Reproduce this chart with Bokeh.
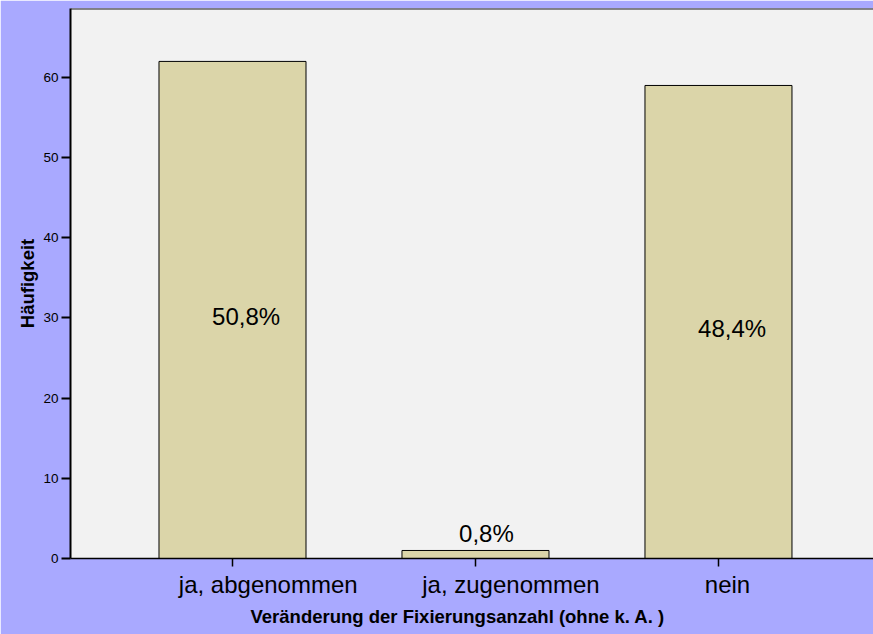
from bokeh.plotting import figure
from bokeh.models import (Range1d, FixedTicker, Span, ColumnDataSource,
                          LinearAxis, Title)
from bokeh.core.properties import value
from bokeh.embed import file_html
from bokeh.resources import INLINE

# ---- data ----
categories = ["ja, abgenommen", "ja, zugenommen", "nein"]
counts = [62, 1, 59]
y_ticks = [0, 10, 20, 30, 40, 50, 60]
x_title = "Veränderung der Fixierungsanzahl (ohne k. A. )"
y_title = "Häufigkeit"

BG = "#A9A9FF"
PLOT_BG = "#F2F2F2"
BAR = "#DBD5A9"
FONT = "Liberation Sans"
BIG = 24  # px, category and percentage labels
W, H = 873, 634
ML, MB, MT = 70, 76, 8
X0, X1 = 0.3333, 3.638

# approximate Arial advance widths (em) -- used to mimic the source's
# left-anchored text placement
_W = {"j": .222, "i": .222, "a": .556, "b": .556, "g": .556, "e": .556,
      "n": .556, "o": .556, "u": .556, "z": .5, "m": .833, ",": .278,
      " ": .278, "%": .889}


def text_w(s, size):
    return sum(_W.get(ch, .556) for ch in s) * size


total = sum(counts)
xs = list(range(1, len(categories) + 1))
pct = [f"{c / total * 100:.1f}%".replace(".", ",") for c in counts]
ppu = (W - ML) / (X1 - X0)  # pixels per x unit

p = figure(width=W, height=H, output_backend="svg", toolbar_location=None,
           x_range=Range1d(X0, X1), y_range=Range1d(0, 68.6),
           min_border_left=ML, min_border_right=0, min_border_top=MT,
           min_border_bottom=MB)
p.background_fill_color = PLOT_BG
p.border_fill_color = BG
p.outline_line_color = None
p.grid.visible = False

src = ColumnDataSource(dict(x=xs, top=counts))
p.vbar(x="x", top="top", width=0.605, bottom=0, source=src,
       fill_color=BAR, line_color="#000000", line_width=1)

# percentage labels: inside tall bars, above small ones
inside = [i for i, c in enumerate(counts) if c / total >= 0.05]
above = [i for i, c in enumerate(counts) if c / total < 0.05]
src_in = ColumnDataSource(dict(x=[xs[i] for i in inside],
                               y=[counts[i] / 2 for i in inside],
                               t=[pct[i] for i in inside],
                               dx=[0.2 * text_w(pct[i], BIG) for i in inside]))
src_ab = ColumnDataSource(dict(x=[xs[i] for i in above],
                               y=[counts[i] for i in above],
                               t=[pct[i] for i in above],
                               dx=[0.2 * text_w(pct[i], BIG) for i in above]))
p.text(x="x", y="y", text="t", source=src_in, text_align="center",
       text_baseline="middle", x_offset="dx", y_offset=7,
       text_font=value(FONT), text_font_size=f"{BIG}px", text_color="#000000")
p.text(x="x", y="y", text="t", source=src_ab, text_align="center",
       text_baseline="middle", x_offset="dx", y_offset=-16.5,
       text_font=value(FONT), text_font_size=f"{BIG}px", text_color="#000000")

# top border
p.add_layout(Span(location=68.6, dimension="width", line_color="#1a1a1a",
                  line_width=2))

# x axis: tick marks only
xa = p.xaxis[0]
xa.ticker = FixedTicker(ticks=xs)
xa.major_label_overrides = {x: "" for x in xs}
xa.major_label_text_font_size = "0px"
xa.major_label_standoff = 0
xa.major_tick_out = 8
xa.major_tick_in = 0
xa.minor_tick_line_color = None
xa.axis_line_color = "#000000"
xa.axis_line_width = 1.5
xa.major_tick_line_width = 1.5

# second axis carrying the category names
lab_x = [round(x + 0.2 * text_w(c, BIG) / ppu, 4) for x, c in zip(xs, categories)]
xb = LinearAxis(ticker=FixedTicker(ticks=lab_x),
                major_label_overrides={lx: c for lx, c in zip(lab_x, categories)})
xb.axis_line_color = None
xb.major_tick_line_color = None
xb.minor_tick_line_color = None
xb.major_tick_out = 0
xb.major_tick_in = 0
xb.major_label_standoff = 4
xb.major_label_text_font = FONT
xb.major_label_text_font_size = f"{BIG}px"
xb.major_label_text_color = "#000000"
p.add_layout(xb, "below")

p.add_layout(Title(text=x_title, align="left", offset=180,
                   vertical_align="top", standoff=11, text_font=FONT,
                   text_font_style="bold", text_font_size="18.5px",
                   text_color="#000000"), "below")

# y axis
ya = p.yaxis[0]
ya.ticker = FixedTicker(ticks=y_ticks)
ya.major_label_text_font = FONT
ya.major_label_text_font_size = "13.5px"
ya.major_label_text_color = "#000000"
ya.major_tick_out = 9
ya.major_tick_in = 0
ya.minor_tick_line_color = None
ya.major_label_standoff = 3
ya.axis_line_color = "#000000"
ya.axis_line_width = 2
ya.major_tick_line_width = 2
ya.axis_label = y_title
ya.axis_label_text_font = FONT
ya.axis_label_text_font_style = "bold"
ya.axis_label_text_font_size = "18.5px"
ya.axis_label_text_color = "#000000"
ya.axis_label_standoff = 2

open("out.html", "w").write(file_html(p, INLINE))
